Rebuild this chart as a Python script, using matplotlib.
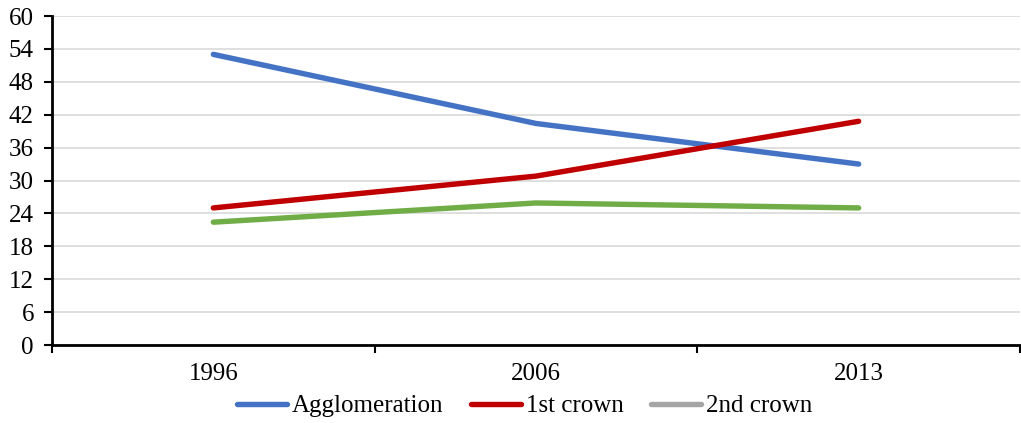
import matplotlib
matplotlib.use("Agg")
import matplotlib.pyplot as plt
from matplotlib.lines import Line2D

years = ["1996", "2006", "2013"]
agglomeration = [53, 40.4, 33]
first_crown = [25, 30.8, 40.8]
second_crown = [22.4, 25.9, 25]
series_names = ["Agglomeration", "1st crown", "2nd crown"]
yticks = list(range(0, 61, 6))

plt.rcParams['font.family'] = ['Liberation Serif', 'DejaVu Serif']
FS = 18

fig = plt.figure(figsize=(10.21, 4.23), dpi=100)
ax = fig.add_axes([52/1021, 1-345/423, (1020-52)/1021, (345-16)/423])

x = list(range(len(years)))
lw = 3.9
ax.plot(x, agglomeration, color="#4472C4", lw=lw, solid_capstyle="round", zorder=3)
ax.plot(x, first_crown, color="#C00000", lw=lw, solid_capstyle="round", zorder=3)
ax.plot(x, second_crown, color="#70AD47", lw=lw, solid_capstyle="round", zorder=3)

ax.set_xlim(-0.5, len(years) - 0.5)
ax.set_ylim(0, 60)
ax.set_yticks(yticks)
ax.set_yticklabels([str(v) for v in yticks], fontsize=FS)
ax.yaxis.grid(True, color="#D9D9D9", lw=1.2)
ax.set_axisbelow(True)

ax.set_xticks([i - 0.5 for i in range(len(years) + 1)])
ax.set_xticklabels([])
ax.set_xticks(x, minor=True)
ax.set_xticklabels(years, minor=True, fontsize=FS)
ax.tick_params(axis="x", which="minor", length=0, pad=13)
ax.tick_params(axis="x", which="major", length=6, width=1.5, direction="out")
ax.tick_params(axis="y", length=6, width=1.5, direction="out", pad=7)

for s in ["top", "right"]:
    ax.spines[s].set_visible(False)
for s in ["left", "bottom"]:
    ax.spines[s].set_linewidth(2)
    ax.spines[s].set_color("black")

handles = [
    Line2D([], [], color="#4472C4", lw=lw, solid_capstyle="round"),
    Line2D([], [], color="#C00000", lw=lw, solid_capstyle="round"),
    Line2D([], [], color="#A5A5A5", lw=lw, solid_capstyle="round"),
]
fig.legend(handles, series_names, loc="center", bbox_to_anchor=(0.514, 1-406/423),
           ncol=3, frameon=False, fontsize=FS, handlelength=2.0, handletextpad=0.2,
           columnspacing=1.1, borderpad=0, borderaxespad=0)

fig.savefig("out.png", dpi=100)
